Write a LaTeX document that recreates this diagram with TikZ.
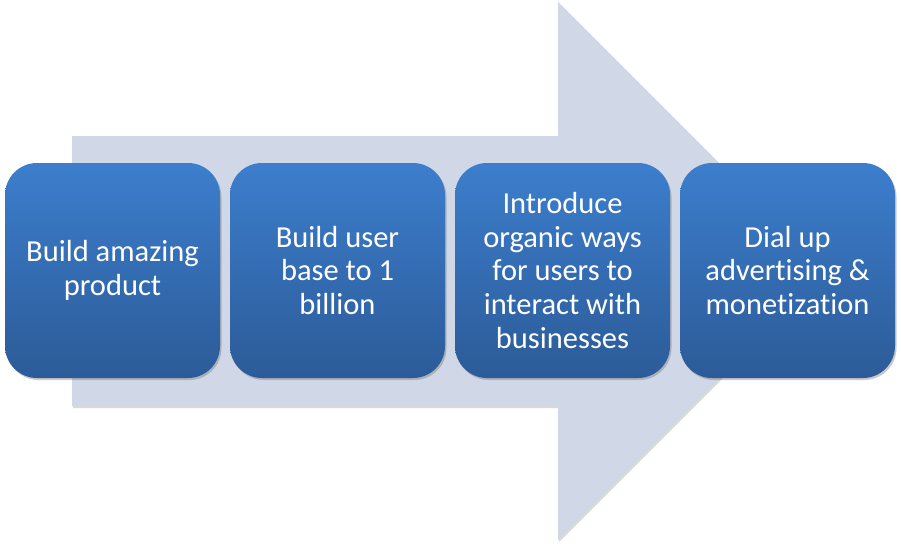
\documentclass[tikz,border=0pt]{standalone}
\usepackage{fontspec}
\setmainfont[Ligatures=NoCommon]{Carlito}
\usetikzlibrary{shadows,shadings}
\definecolor{arrowfill}{HTML}{D0D8E7}
\definecolor{boxtop}{HTML}{3C7ECD}
\definecolor{boxbot}{HTML}{2C5B98}
\tikzset{
  stepbox/.style={rounded corners=32pt, minimum width=215pt, minimum height=215pt,
    top color=boxtop, bottom color=boxbot, text=white, align=center,
    font=\fontsize{30.5}{33.8}\selectfont,
    drop shadow={shadow xshift=1.5pt, shadow yshift=-2pt, opacity=0.35, fill=black!60}},
}
\begin{document}
\begin{tikzpicture}[x=1pt,y=-1pt]
\useasboundingbox (0,0) rectangle (901,547);
\fill[black!25, opacity=0.6] (73,138) -- (559,138) -- (559,4) -- (828,273) -- (559,542) -- (559,408) -- (73,408) -- cycle;
\fill[arrowfill] (72,136) -- (558,136) -- (558,2) -- (827,271) -- (558,540) -- (558,406) -- (72,406) -- cycle;
\node[stepbox] (b1) at (112.5,270.5) {Build amazing\\product};
\node[stepbox] (b2) at (337.5,270.5) {Build user\\base to 1\\billion};
\node[stepbox] (b3) at (562.5,270.5) {Introduce\\organic ways\\for users to\\interact with\\businesses};
\node[stepbox] (b4) at (787.5,270.5) {Dial up\\advertising \&\\monetization};
\end{tikzpicture}
\end{document}
